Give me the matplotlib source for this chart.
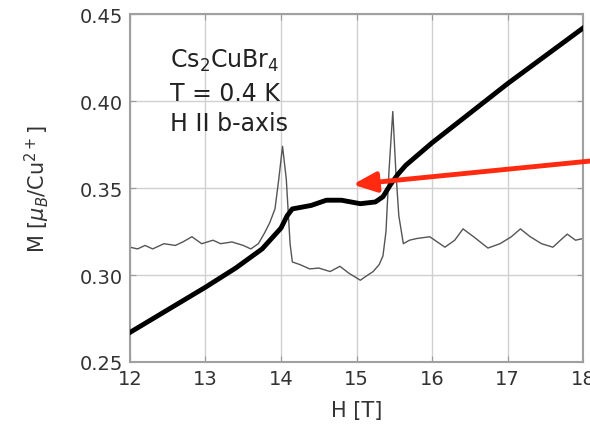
import matplotlib
matplotlib.use("Agg")
import matplotlib.pyplot as plt

plt.rcParams["font.family"] = ["DejaVu Sans"]

# magnetization curve M(H)
H_m = [12.0, 12.5, 13.0, 13.4, 13.75, 14.0, 14.08, 14.15, 14.4, 14.6, 14.8,
       15.05, 15.25, 15.35, 15.45, 15.55, 15.65, 16.0, 16.5, 17.0, 17.5, 18.0]
M = [0.267, 0.280, 0.293, 0.304, 0.315, 0.327, 0.334, 0.338, 0.340, 0.343, 0.343,
     0.341, 0.342, 0.345, 0.352, 0.358, 0.363, 0.376, 0.393, 0.410, 0.426, 0.442]

# derivative dM/dH (arbitrary scale, offset)
H_d = [12.0, 12.1, 12.2, 12.3, 12.45, 12.6, 12.7, 12.82, 12.95, 13.1, 13.2, 13.35,
       13.5, 13.6, 13.7, 13.78, 13.85, 13.92, 13.97, 14.02, 14.07, 14.12, 14.15,
       14.25, 14.38, 14.5, 14.65, 14.78, 14.9, 15.05, 15.15, 15.22, 15.3, 15.35,
       15.39, 15.43, 15.48, 15.52, 15.56, 15.62, 15.7, 15.8, 15.97, 16.17, 16.3,
       16.41, 16.55, 16.74, 16.9, 17.05, 17.17, 17.3, 17.45, 17.6, 17.7, 17.79,
       17.9, 18.0]
dM = [0.316, 0.315, 0.317, 0.315, 0.318, 0.317, 0.319, 0.322, 0.318, 0.320, 0.318,
      0.319, 0.317, 0.315, 0.318, 0.324, 0.330, 0.338, 0.355, 0.374, 0.355, 0.318,
      0.3075, 0.306, 0.3035, 0.304, 0.302, 0.305, 0.301, 0.297, 0.300, 0.302, 0.306,
      0.311, 0.325, 0.360, 0.394, 0.360, 0.334, 0.318, 0.320, 0.321, 0.322, 0.316,
      0.320, 0.3265, 0.322, 0.3155, 0.318, 0.322, 0.3265, 0.322, 0.318, 0.316,
      0.320, 0.3235, 0.320, 0.321]

xticks = [12, 13, 14, 15, 16, 17, 18]
yticks = [0.25, 0.30, 0.35, 0.40, 0.45]
info = ["Cs$_2$CuBr$_4$", "T = 0.4 K", "H II b-axis"]

fig = plt.figure(figsize=(5.9, 4.31), dpi=100)
ax = fig.add_axes([0.2203, 0.1578, 0.768, 0.8072])

ax.plot(H_d, dM, color="#555555", lw=1.0, zorder=2)
ax.plot(H_m, M, color="black", lw=3.5, zorder=3)

ax.set_xlim(12, 18)
ax.set_ylim(0.25, 0.45)
ax.set_xticks(xticks)
ax.set_yticks(yticks)
ax.set_yticklabels([f"{v:.2f}" for v in yticks])
ax.grid(True, color="#d0d0d0", lw=1.0)
ax.set_axisbelow(True)
for s in ax.spines.values():
    s.set_color("#a0a0a0")
    s.set_linewidth(1.5)
ax.tick_params(direction="in", top=True, right=True, length=4, color="#999999",
               labelsize=14, labelcolor="#333333", pad=5)

ax.set_xlabel("H [T]", fontsize=15, color="#333333", labelpad=9)
ax.set_ylabel(r"M [$\mu_B$/Cu$^{2+}$]", fontsize=15, color="#333333", labelpad=20)

for txt, yy in zip(info, [0.4195, 0.4006, 0.3833]):
    ax.text(12.53, yy, txt, fontsize=17, color="#222222", va="baseline", ha="left")

ax.annotate("", xy=(14.95, 0.352), xycoords="data",
            xytext=(1.0, 0.624), textcoords="figure fraction",
            arrowprops=dict(arrowstyle="-|>,head_length=1.4,head_width=0.6",
                            color="#ff2a10", lw=3.5, shrinkA=0, shrinkB=0),
            annotation_clip=False, zorder=5)

fig.savefig("out.png", dpi=100)
